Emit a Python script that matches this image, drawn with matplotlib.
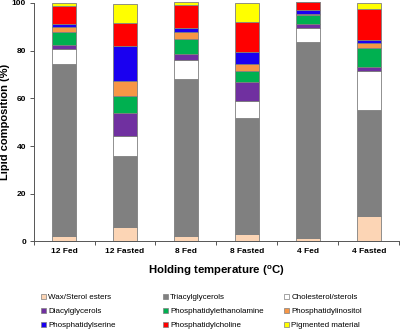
import numpy as np
import matplotlib
matplotlib.use('Agg')
import matplotlib.pyplot as plt
from matplotlib.patches import Patch

plt.rcParams['font.family'] = ['Liberation Sans', 'DejaVu Sans']

# 数据：各处理组的脂类组成 (%)
groups = ["12 Fed", "12 Fasted", "8 Fed", "8 Fasted", "4 Fed", "4 Fasted"]
classes = ["Wax/Sterol esters", "Triacylglycerols", "Cholesterol/sterols",
           "Diacylglycerols", "Phosphatidylethanolamine", "Phosphatidylinositol",
           "Phosphatidylserine", "Phosphatidylcholine", "Pigmented material"]
colors = ["#FCD5B5", "#808080", "#FFFFFF", "#7030A0", "#00B050",
          "#F79646", "#1A00F0", "#FF0000", "#FFFF00"]

wax = [2.1, 6.0, 2.1, 3.1, 1.3, 10.8]
tag = [72.2, 29.9, 65.9, 48.6, 82.5, 44.5]
chol = [6.4, 8.4, 8.1, 7.1, 5.6, 16.1]
dag = [1.7, 9.5, 2.3, 8.2, 1.8, 1.8]
pe = [5.6, 7.1, 6.5, 4.5, 3.8, 8.1]
pi = [1.8, 6.3, 2.8, 2.9, 0.3, 1.8]
ps = [1.3, 14.8, 1.7, 4.9, 1.8, 1.4]
pc = [7.6, 9.5, 9.9, 12.6, 3.4, 12.8]
pig = [1.2, 7.9, 1.2, 8.0, 0.0, 2.6]
series = [wax, tag, chol, dag, pe, pi, ps, pc, pig]

fig = plt.figure(figsize=(4.0, 3.32), dpi=100)
ax = fig.add_axes([0.084, 0.273, 0.914, 0.718])

x = np.arange(len(groups))
bottom = np.zeros(len(groups))
for vals, c in zip(series, colors):
    ax.bar(x, vals, 0.4, bottom=bottom, color=c, edgecolor="#7F7F7F",
           linewidth=0.6, clip_on=False, zorder=2)
    bottom += np.array(vals)

ax.set_xlim(-0.5, len(groups) - 0.5)
ax.set_ylim(0, 100)
ax.set_yticks(range(0, 101, 20))
ax.set_xticks(x)
ax.set_xticklabels(groups, fontweight='bold', fontsize=6)
ax.set_xticks(np.arange(-0.5, len(groups), 1.0), minor=True)
ax.tick_params(axis='x', which='major', length=0, pad=5)
ax.tick_params(axis='x', which='minor', length=3, width=0.7, color="#555555")
ax.tick_params(axis='y', length=3, width=0.7, labelsize=6, pad=2.5, color="#555555")
for lab in ax.get_yticklabels():
    lab.set_fontweight('bold')
for s in ['top', 'right']:
    ax.spines[s].set_visible(False)
for s in ['left', 'bottom']:
    ax.spines[s].set_color("#555555")
    ax.spines[s].set_linewidth(0.7)

ax.set_ylabel("Lipid composition (%)", fontweight='bold', fontsize=8, labelpad=1)
ax.set_xlabel("Holding temperature ($^\\mathregular{o}$C)", fontweight='bold',
              fontsize=8.2, labelpad=6)

handles = [Patch(facecolor=c, edgecolor="#7F7F7F", linewidth=0.5, label=l)
           for c, l in zip(colors, classes)]
# 图例按 Excel 样式分三列，每列单独放置
col_x = [0.1025, 0.4075, 0.71]
for k, cx in enumerate(col_x):
    idx = [k, k + 3, k + 6]
    leg = fig.legend([handles[i] for i in idx], [classes[i] for i in idx],
                     loc='upper left', bbox_to_anchor=(cx, 0.115), ncol=1,
                     frameon=False, fontsize=5.8, handlelength=0.6, handleheight=0.6,
                     handletextpad=0.3, labelspacing=0.8, borderpad=0,
                     borderaxespad=0)

fig.savefig("out.png", dpi=100)
